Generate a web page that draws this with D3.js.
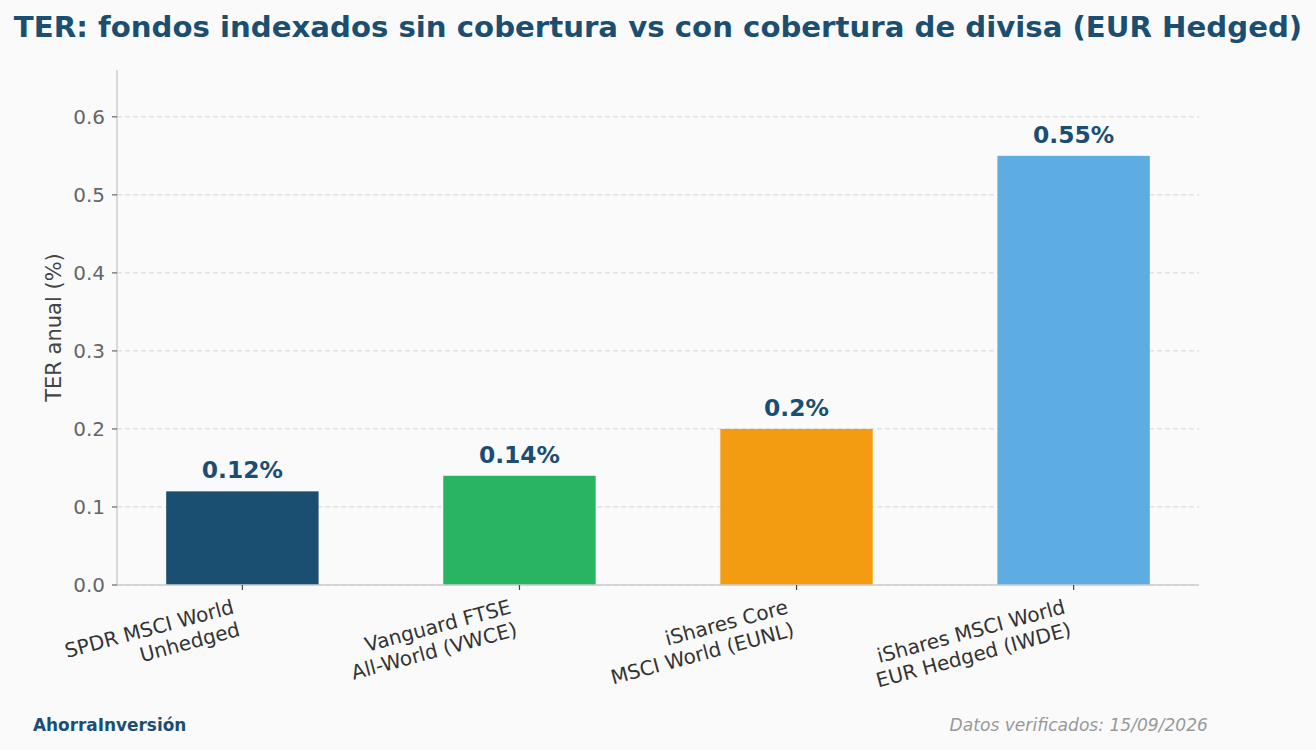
<!DOCTYPE html>
<html><head><meta charset="utf-8">
<script src="https://cdn.jsdelivr.net/npm/d3@7"></script>
<style>html,body{margin:0;padding:0;background:#fafafa;}svg{display:block;font-family:"DejaVu Sans",sans-serif;}</style>
</head><body>
<svg id="c" width="1316" height="750"></svg>
<script>
const categories = [["SPDR MSCI World","Unhedged"],["Vanguard FTSE","All-World (VWCE)"],["iShares Core","MSCI World (EUNL)"],["iShares MSCI World","EUR Hedged (IWDE)"]];
const values = [0.12, 0.14, 0.20, 0.55];
const valueLabels = ["0.12%","0.14%","0.2%","0.55%"];
const colors = ["#1B4F72","#28B463","#F39C12","#5DADE2"];
const yTicks = [0.0,0.1,0.2,0.3,0.4,0.5,0.6];

const svg = d3.select("#c");
svg.append("rect").attr("width",1316).attr("height",750).attr("fill","#fafafa");
const L=117, R=1199, T=70, B=585;
const x = d3.scaleLinear().domain([-0.4525, 3.4525]).range([L,R]);
const y = d3.scaleLinear().domain([0, 0.66]).range([B,T]);
const bw = 0.55;

// grid
svg.append("g").selectAll("line").data(yTicks).join("line")
  .attr("x1",L).attr("x2",R).attr("y1",d=>y(d)).attr("y2",d=>y(d))
  .attr("stroke","#dddddd").attr("stroke-width",1.2).attr("stroke-dasharray","5,3");

// bars
svg.append("g").selectAll("rect").data(values).join("rect")
  .attr("x",(d,i)=>x(i-bw/2)).attr("width",(d,i)=>x(i+bw/2)-x(i-bw/2))
  .attr("y",d=>y(d)).attr("height",d=>B-y(d)).attr("fill",(d,i)=>colors[i]);

// value labels
svg.append("g").selectAll("text").data(values).join("text")
  .attr("x",(d,i)=>x(i)).attr("y",d=>y(d)-13)
  .attr("text-anchor","middle").attr("font-weight","bold").attr("font-size",23.4)
  .attr("fill","#1B4F72").text((d,i)=>valueLabels[i]);

// spines
svg.append("line").attr("x1",L).attr("x2",L).attr("y1",T).attr("y2",B).attr("stroke","#cccccc").attr("stroke-width",1.5);
svg.append("line").attr("x1",L).attr("x2",R).attr("y1",B).attr("y2",B).attr("stroke","#cccccc").attr("stroke-width",1.5);

// y axis ticks
const ya = svg.append("g");
ya.selectAll("line").data(yTicks).join("line")
  .attr("x1",L-5).attr("x2",L).attr("y1",d=>y(d)).attr("y2",d=>y(d)).attr("stroke","#666").attr("stroke-width",1.2);
ya.selectAll("text").data(yTicks).join("text")
  .attr("x",L-12).attr("y",d=>y(d)).attr("dy","0.36em").attr("text-anchor","end")
  .attr("font-size",20).attr("fill","#666").text(d=>d3.format(".1f")(d));

// x ticks
const fs=20, lh=fs*1.17, ang=15, rad=ang*Math.PI/180;
const xa = svg.append("g");
xa.selectAll("line").data(values).join("line")
  .attr("x1",(d,i)=>x(i)).attr("x2",(d,i)=>x(i)).attr("y1",B).attr("y2",B+5).attr("stroke","#444").attr("stroke-width",1.2);
categories.forEach((lines,i)=>{
  const h = lines.length*lh;
  const trx = x(i) - h*Math.sin(rad);
  const tr_y = B + 10;
  const g = xa.append("g").attr("transform",`translate(${trx},${tr_y}) rotate(${-ang})`);
  lines.forEach((ln,k)=>{
    g.append("text").attr("x",0).attr("y",k*lh+fs*0.93).attr("text-anchor","end")
      .attr("font-size",fs).attr("fill","#333").text(ln);
  });
});

// y label
svg.append("text").attr("transform",`translate(61,${(253+402)/2}) rotate(-90)`)
  .attr("text-anchor","middle").attr("font-size",21).attr("fill","#444").text("TER anual (%)");

// title
svg.append("text").attr("x",658).attr("y",37).attr("text-anchor","middle")
  .attr("font-size",29.2).attr("font-weight","bold").attr("fill","#1B4F72")
  .text("TER: fondos indexados sin cobertura vs con cobertura de divisa (EUR Hedged)");

// footer
svg.append("text").attr("x",33).attr("y",731).attr("font-size",16.9).attr("font-weight","bold")
  .attr("fill","#1B4F72").text("AhorraInversión");
svg.append("text").attr("x",1208).attr("y",731).attr("text-anchor","end").attr("font-size",17.1)
  .attr("font-style","italic").attr("fill","#999").text("Datos verificados: 15/09/2026");
</script>
</body></html>
